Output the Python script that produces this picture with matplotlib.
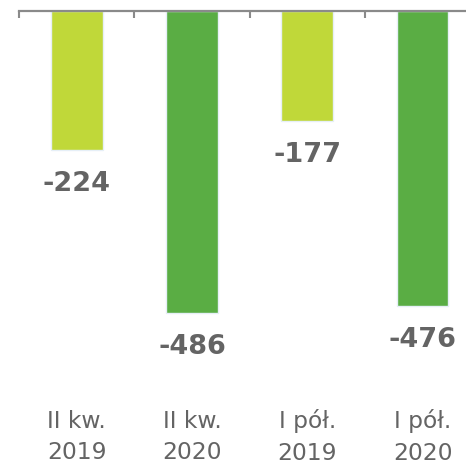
import matplotlib
matplotlib.use("Agg")
import matplotlib.pyplot as plt
import matplotlib.transforms as mtransforms

# data
categories = ["II kw.\n2019", "II kw.\n2020", "I pół.\n2019", "I pół.\n2020"]
values = [-224, -486, -177, -476]
colors = ["#c0d839", "#5aad44", "#c0d839", "#5aad44"]

text_gray = "#646464"
axis_gray = "#8a8a8a"

fig = plt.figure(figsize=(4.66, 4.65), dpi=100)
W, H = 466, 465
# axes: left at x=19, top at y=11 (pixels), down to y=395
ax = fig.add_axes([19 / W, (H - 395) / H, (W - 19) / W, (395 - 11) / H])

x = list(range(len(values)))
ax.bar(x, values, width=0.45, color=colors, edgecolor="#e6eff7", linewidth=1.0)

# value labels under each bar
for xi, v in zip(x, values):
    ax.annotate(f"{v}", (xi, v), xytext=(0, -24.5), textcoords="offset points",
                ha="center", va="center", fontsize=19.5, fontweight="bold",
                color=text_gray)

# category labels below the plot
trans = mtransforms.blended_transform_factory(ax.transData, fig.transFigure)
for xi, lab in zip(x, categories):
    ax.text(xi, 1 - 437 / H, lab, transform=trans, ha="center", va="center",
            fontsize=16.8, color=text_gray, linespacing=1.47)

# zero line on top with ticks between categories
for side in ["left", "right", "bottom"]:
    ax.spines[side].set_visible(False)
ax.spines["top"].set_color(axis_gray)
ax.spines["top"].set_linewidth(1.6)
ax.xaxis.tick_top()
ax.set_xticks([-0.5, 0.5, 1.5, 2.5, 3.5])
ax.set_xticklabels([])
ax.tick_params(axis="x", direction="in", length=5, width=1.5, color=axis_gray)
ax.set_yticks([])

px_per_unit = 0.6205
ax.set_ylim(-(395 - 11) / px_per_unit, 0)
ax.set_xlim(-0.5, -0.5 + (W - 19) / 115.3)

fig.savefig("out.png", dpi=100)
